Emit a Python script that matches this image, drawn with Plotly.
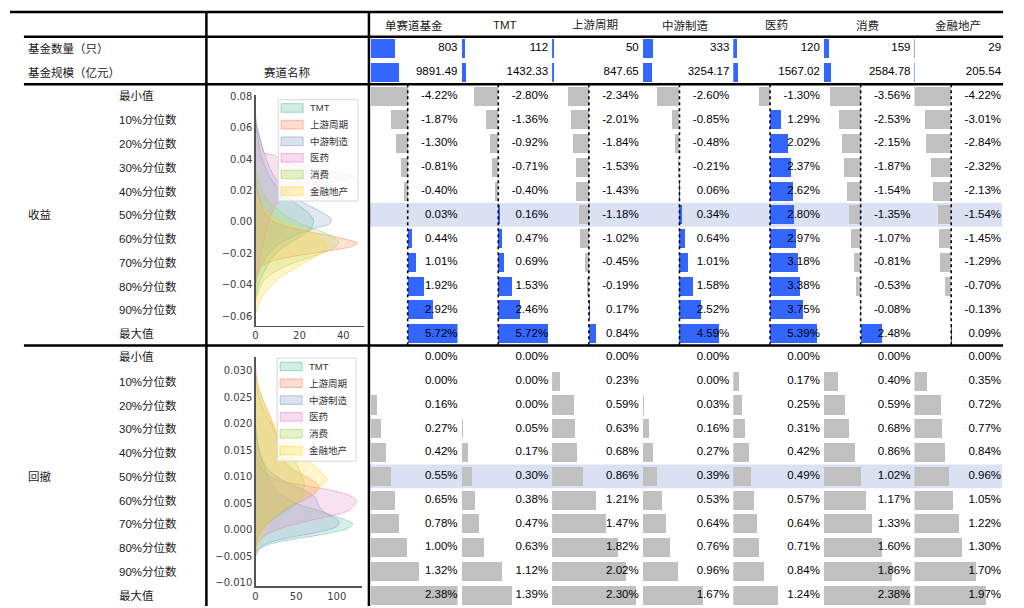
import plotly.graph_objects as go

# ---------------- data ----------------
categories = ["单赛道基金", "TMT", "上游周期", "中游制造", "医药", "消费", "金融地产"]
fund_count = [803, 112, 50, 333, 120, 159, 29]
fund_size = [9891.49, 1432.33, 847.65, 3254.17, 1567.02, 2584.78, 205.54]
pct_labels = ["最小值", "10%分位数", "20%分位数", "30%分位数", "40%分位数", "50%分位数",
              "60%分位数", "70%分位数", "80%分位数", "90%分位数", "最大值"]

# 收益 (%) per track
ret_single = [-4.22, -1.87, -1.30, -0.81, -0.40, 0.03, 0.44, 1.01, 1.92, 2.92, 5.72]
ret_tmt = [-2.80, -1.36, -0.92, -0.71, -0.40, 0.16, 0.47, 0.69, 1.53, 2.46, 5.72]
ret_upstream = [-2.34, -2.01, -1.84, -1.53, -1.43, -1.18, -1.02, -0.45, -0.19, 0.17, 0.84]
ret_midstream = [-2.60, -0.85, -0.48, -0.21, 0.06, 0.34, 0.64, 1.01, 1.58, 2.52, 4.59]
ret_pharma = [-1.30, 1.29, 2.02, 2.37, 2.62, 2.80, 2.97, 3.18, 3.38, 3.75, 5.39]
ret_consumer = [-3.56, -2.53, -2.15, -1.87, -1.54, -1.35, -1.07, -0.81, -0.53, -0.08, 2.48]
ret_finance = [-4.22, -3.01, -2.84, -2.32, -2.13, -1.54, -1.45, -1.29, -0.70, -0.13, 0.09]

# 回撤 (%) per track
dd_single = [0.00, 0.00, 0.16, 0.27, 0.42, 0.55, 0.65, 0.78, 1.00, 1.32, 2.38]
dd_tmt = [0.00, 0.00, 0.00, 0.05, 0.17, 0.30, 0.38, 0.47, 0.63, 1.12, 1.39]
dd_upstream = [0.00, 0.23, 0.59, 0.63, 0.68, 0.86, 1.21, 1.47, 1.82, 2.02, 2.30]
dd_midstream = [0.00, 0.00, 0.03, 0.16, 0.27, 0.39, 0.53, 0.64, 0.76, 0.96, 1.67]
dd_pharma = [0.00, 0.17, 0.25, 0.31, 0.42, 0.49, 0.57, 0.64, 0.71, 0.84, 1.24]
dd_consumer = [0.00, 0.40, 0.59, 0.68, 0.86, 1.02, 1.17, 1.33, 1.60, 1.86, 2.38]
dd_finance = [0.00, 0.35, 0.72, 0.77, 0.84, 0.96, 1.05, 1.22, 1.30, 1.70, 1.97]

returns = [ret_single, ret_tmt, ret_upstream, ret_midstream, ret_pharma, ret_consumer, ret_finance]
drawdowns = [dd_single, dd_tmt, dd_upstream, dd_midstream, dd_pharma, dd_consumer, dd_finance]

# KDE curves: level on y, density on x
kde_names = ["TMT", "上游周期", "中游制造", "医药", "消费", "金融地产"]
kde_colors = ["102,194,165", "252,141,98", "141,160,203", "231,138,195", "166,216,84", "255,217,47"]

kr_tmt_y = [0.069, 0.060, 0.050, 0.040, 0.030, 0.020, 0.013, 0.006, 0.001, -0.004, -0.009, -0.013, -0.018, -0.023, -0.030, -0.036, -0.042, -0.048]
kr_tmt_x = [0, 0.5, 1.5, 3, 6, 11, 17, 24, 26.5, 25.5, 21, 16, 11, 7.5, 4.5, 2.5, 1, 0]
kr_up_y = [0.027, 0.020, 0.012, 0.006, 0.001, -0.003, -0.007, -0.010, -0.0135, -0.016, -0.019, -0.022, -0.025, -0.028, -0.032, -0.036]
kr_up_x = [0, 1, 2.5, 4, 7, 14, 27, 38, 46.5, 43, 31, 17, 7.5, 3, 0.8, 0]
kr_mid_y = [0.064, 0.058, 0.050, 0.044, 0.036, 0.028, 0.020, 0.013, 0.007, 0.002, -0.001, -0.004, -0.008, -0.012, -0.017, -0.022, -0.028, -0.034, -0.040]
kr_mid_x = [0, 1, 2.5, 4, 6, 9, 14, 21, 29, 34.5, 34, 27, 19, 13, 8, 5, 2.5, 1, 0]
kr_ph_y = [0.066, 0.060, 0.054, 0.048, 0.044, 0.0425, 0.040, 0.037, 0.034, 0.031, 0.0285, 0.026, 0.023, 0.020, 0.016, 0.010, 0.004, -0.002, -0.008, -0.014, -0.020, -0.027, -0.033, -0.038]
kr_ph_x = [0, 0.8, 2, 3, 4, 9, 11, 17, 26, 38, 45, 36, 24, 16, 12, 9, 7, 5.5, 4.5, 3.5, 2.5, 1.5, 0.5, 0]
kr_con_y = [0.034, 0.028, 0.020, 0.013, 0.008, 0.003, -0.002, -0.006, -0.010, -0.0135, -0.017, -0.020, -0.024, -0.028, -0.033, -0.038, -0.044, -0.050]
kr_con_x = [0, 1, 3, 6, 10, 15, 22, 30, 36, 38, 35, 30, 22, 14, 7.5, 3.5, 1.5, 0]
kr_fin_y = [0.018, 0.013, 0.008, 0.004, 0.000, -0.004, -0.008, -0.011, -0.0145, -0.018, -0.021, -0.025, -0.030, -0.034, -0.038, -0.042, -0.046, -0.050, -0.055, -0.058]
kr_fin_x = [0, 1.5, 4, 7.5, 12, 19.5, 26, 30.5, 32.5, 31.5, 29, 23.5, 17.5, 12.5, 9, 6, 3.8, 2, 0.8, 0]

kd_tmt_y = [0.020, 0.017, 0.014, 0.0115, 0.009, 0.007, 0.005, 0.0035, 0.0022, 0.0011, 0.0002, -0.0008, -0.0018, -0.0028, -0.0038, -0.005]
kd_tmt_x = [0, 2, 6, 12, 18, 28, 50, 80, 105, 120, 112, 85, 45, 15, 4, 0]
kd_up_y = [0.031, 0.028, 0.025, 0.022, 0.019, 0.016, 0.0135, 0.0115, 0.0098, 0.0083, 0.007, 0.0055, 0.004, 0.0025, 0.001, -0.0005, -0.002, -0.004]
kd_up_x = [0, 2, 8, 16, 23, 28, 33, 45, 65, 78, 74, 58, 40, 25, 13, 5, 1.5, 0]
kd_mid_y = [0.019, 0.016, 0.013, 0.011, 0.009, 0.0075, 0.006, 0.0045, 0.003, 0.0016, 0.0006, -0.0005, -0.0015, -0.0025, -0.0035, -0.0045]
kd_mid_x = [0, 3, 9, 18, 38, 60, 74, 78, 88, 103, 100, 75, 40, 15, 4, 0]
kd_ph_y = [0.016, 0.013, 0.011, 0.0095, 0.0085, 0.0075, 0.0065, 0.0055, 0.0045, 0.0035, 0.0025, 0.0015, 0.0005, -0.0005, -0.0015, -0.003, -0.004]
kd_ph_x = [0, 3, 10, 25, 55, 92, 116, 124, 121, 113, 88, 60, 35, 18, 8, 1.5, 0]
kd_con_y = [0.029, 0.026, 0.023, 0.020, 0.017, 0.014, 0.011, 0.0085, 0.006, 0.0035, 0.0015, -0.0005, -0.0025, -0.004]
kd_con_x = [0, 3, 9, 19, 32, 45, 55, 60, 56, 38, 18, 6, 1.5, 0]
kd_fin_y = [0.028, 0.025, 0.022, 0.0195, 0.017, 0.0145, 0.012, 0.0095, 0.0075, 0.0055, 0.0035, 0.0015, 0.0, -0.0015, -0.003, -0.005]
kd_fin_x = [0, 7, 16, 24, 35, 50, 73, 88, 75, 50, 28, 16, 11, 5, 2, 0]

kde_ret = [(kr_tmt_x, kr_tmt_y), (kr_up_x, kr_up_y), (kr_mid_x, kr_mid_y),
           (kr_ph_x, kr_ph_y), (kr_con_x, kr_con_y), (kr_fin_x, kr_fin_y)]
kde_dd = [(kd_tmt_x, kd_tmt_y), (kd_up_x, kd_up_y), (kd_mid_x, kd_mid_y),
          (kd_ph_x, kd_ph_y), (kd_con_x, kd_con_y), (kd_fin_x, kd_fin_y)]

# ---------------- styling / geometry ----------------
W, H = 1024, 608
BLUE = "#3366FF"
GREY = "#C0C0C0"
HIGHLIGHT = "#D9E1F2"
NUM_FONT = dict(family="Liberation Sans, Arial, Noto Sans CJK SC", size=11.5, color="#000000")
CJK_FONT = dict(family="Liberation Sans, Noto Sans CJK SC", size=11.5, color="#1a1a1a")
TICK_FONT = dict(family="DejaVu Sans", size=10, color="#404040")
LEG_FONT = dict(family="Liberation Sans, Noto Sans CJK SC", size=9.5, color="#333333")


def fx(p):
    return p / W


def fy(p):
    return 1 - p / H


COL0, COL_END = 367.0, 1003.0
COLW = (COL_END - COL0) / 7
PAD = 2.0
ROW_H = 24.0
HDR_TOP, RET_TOP, DD_TOP = 33.0, 81.0, 345.0
ANN_PAD = 3.0  # annotation inner padding compensation

CNT_MAX = max(fund_count) * 3.6
SIZE_MAX = max(fund_size) * 3.1
RET_MIN = min(min(r) for r in returns)
RET_MAX = max(max(r) for r in returns)
DD_MAX = max(max(d) for d in drawdowns)

fig = go.Figure()
axes = {}
n_x = [0]


def new_xaxis(dom_px, rng, anchor, **kw):
    n_x[0] += 1
    k = n_x[0]
    name = "xaxis" if k == 1 else f"xaxis{k}"
    ref = "x" if k == 1 else f"x{k}"
    d = dict(domain=[fx(dom_px[0]), fx(dom_px[1])], range=rng, anchor=anchor,
             visible=False, fixedrange=True)
    d.update(kw)
    axes[name] = d
    return ref


# y axes for table blocks
axes["yaxis"] = dict(domain=[fy(RET_TOP), fy(HDR_TOP)], range=[1.5, -0.5], visible=False, fixedrange=True)
axes["yaxis2"] = dict(domain=[fy(DD_TOP), fy(RET_TOP)], range=[10.5, -0.5], visible=False, fixedrange=True)
axes["yaxis3"] = dict(domain=[0, fy(DD_TOP)], range=[-0.5 + (H - DD_TOP) / ROW_H, -0.5],
                      visible=False, fixedrange=True)

rows = list(range(11))
shapes = []
annotations = []

# highlight (median) rows
for yref in ["y2", "y3"]:
    shapes.append(dict(type="rect", xref="paper", yref=yref, x0=fx(COL0), x1=fx(1002), y0=4.5, y1=5.5,
                       fillcolor=HIGHLIGHT, line=dict(width=0), layer="below"))

for j, cat in enumerate(categories):
    left = COL0 + j * COLW
    dom = (left + PAD, left + COLW - PAD)
    x_cnt = new_xaxis(dom, [0, CNT_MAX], "y")
    x_size = new_xaxis(dom, [0, SIZE_MAX], "y")
    x_ret = new_xaxis(dom, [RET_MIN, RET_MAX], "y2")
    x_dd = new_xaxis(dom, [0, DD_MAX], "y3")

    # header rows
    fig.add_trace(go.Bar(x=[fund_count[j]], y=[0], orientation="h", xaxis=x_cnt, yaxis="y",
                         marker=dict(color=BLUE, line=dict(width=0)), width=0.8, showlegend=False, hoverinfo="skip"))
    fig.add_trace(go.Scatter(x=[CNT_MAX], y=[0], text=[f"{fund_count[j]}"], mode="text",
                             textposition="middle left", textfont=NUM_FONT, xaxis=x_cnt, yaxis="y",
                             cliponaxis=False, showlegend=False, hoverinfo="skip"))
    fig.add_trace(go.Bar(x=[fund_size[j]], y=[1], orientation="h", xaxis=x_size, yaxis="y",
                         marker=dict(color=BLUE, line=dict(width=0)), width=0.8, showlegend=False, hoverinfo="skip"))
    fig.add_trace(go.Scatter(x=[SIZE_MAX], y=[1], text=[f"{fund_size[j]:.2f}"], mode="text",
                             textposition="middle left", textfont=NUM_FONT, xaxis=x_size, yaxis="y",
                             cliponaxis=False, showlegend=False, hoverinfo="skip"))

    # returns block
    r = returns[j]
    fig.add_trace(go.Bar(x=r, y=rows, orientation="h", xaxis=x_ret, yaxis="y2", width=0.8,
                         marker=dict(color=[BLUE if v >= 0 else GREY for v in r], line=dict(width=0)),
                         showlegend=False, hoverinfo="skip"))
    fig.add_trace(go.Scatter(x=[RET_MAX] * len(r), y=rows, text=[f"{v:.2f}%" for v in r], mode="text",
                             textposition="middle left", textfont=NUM_FONT, xaxis=x_ret, yaxis="y2",
                             cliponaxis=False, showlegend=False, hoverinfo="skip"))
    shapes.append(dict(type="line", xref=x_ret, yref="y2", x0=0, x1=0, y0=-0.5, y1=10.5,
                       line=dict(color="#000000", width=1.6, dash="dot"), layer="above"))

    # drawdown block
    d = drawdowns[j]
    fig.add_trace(go.Bar(x=d, y=rows, orientation="h", xaxis=x_dd, yaxis="y3", width=0.8,
                         marker=dict(color=GREY, line=dict(width=0)), showlegend=False, hoverinfo="skip"))
    fig.add_trace(go.Scatter(x=[DD_MAX] * len(d), y=rows, text=[f"{v:.2f}%" for v in d], mode="text",
                             textposition="middle left", textfont=NUM_FONT, xaxis=x_dd, yaxis="y3",
                             cliponaxis=False, showlegend=False, hoverinfo="skip"))

    annotations.append(dict(xref=f"{x_ret} domain", x=0.5, yref="paper", y=fy(21.5), text=cat,
                            showarrow=False, font=CJK_FONT, xanchor="center", yanchor="middle"))

# ---------------- KDE charts ----------------
xk1 = new_xaxis((253.3, 361.7), [0, 49.3], "y4")
xk2 = new_xaxis((253.3, 360.0), [0, 131], "y5")
kde_x_common = dict(visible=True, showline=True, linecolor="#555555", linewidth=1.2, showgrid=False,
                    zeroline=False, ticks="", tickfont=TICK_FONT)
axes[xk1.replace("x", "xaxis")].update(kde_x_common, tickvals=[0, 20, 40])
axes[xk2.replace("x", "xaxis")].update(kde_x_common, tickvals=[0, 50, 100])
axes["yaxis4"] = dict(domain=[fy(325), fy(91.7)], range=[-0.0662, 0.081], anchor=xk1,
                      tickvals=[-0.06, -0.04, -0.02, 0.0, 0.02, 0.04, 0.06, 0.08], tickformat=".2f",
                      fixedrange=True, **kde_x_common)
axes["yaxis5"] = dict(domain=[fy(588.3), fy(356.7)], range=[-0.0107, 0.0326], anchor=xk2,
                      tickvals=[-0.01, -0.005, 0.0, 0.005, 0.01, 0.015, 0.02, 0.025, 0.03], tickformat=".3f",
                      fixedrange=True, **kde_x_common)

for (xs, ys), name, c in zip(kde_ret, kde_names, kde_colors):
    fig.add_trace(go.Scatter(x=xs, y=ys, mode="lines", fill="tozerox", name=name,
                             line=dict(color=f"rgba({c},0.55)", width=1, shape="spline", smoothing=0.7),
                             fillcolor=f"rgba({c},0.25)", xaxis=xk1, yaxis="y4",
                             showlegend=False, hoverinfo="skip"))
for (xs, ys), name, c in zip(kde_dd, kde_names, kde_colors):
    fig.add_trace(go.Scatter(x=xs, y=ys, mode="lines", fill="tozerox", name=name,
                             line=dict(color=f"rgba({c},0.55)", width=1, shape="spline", smoothing=0.7),
                             fillcolor=f"rgba({c},0.25)", xaxis=xk2, yaxis="y5",
                             showlegend=False, hoverinfo="skip"))


# matplotlib-style legends inside the KDE charts
def kde_legend(box, first_y, step):
    x0, y0, x1, y1 = box
    shapes.append(dict(type="rect", xref="paper", yref="paper", x0=fx(x0), x1=fx(x1), y0=fy(y1), y1=fy(y0),
                       fillcolor="rgba(255,255,255,0.8)", line=dict(color="#d6d6d6", width=1), layer="above"))
    for i, (name, c) in enumerate(zip(kde_names, kde_colors)):
        yc = first_y + i * step
        shapes.append(dict(type="rect", xref="paper", yref="paper", x0=fx(x0 + 3), x1=fx(x0 + 25),
                           y0=fy(yc + 4.3), y1=fy(yc - 4.3), fillcolor=f"rgba({c},0.3)",
                           line=dict(color=f"rgba({c},0.6)", width=1), layer="above"))
        annotations.append(dict(xref="paper", yref="paper", x=fx(x0 + 33 - ANN_PAD), y=fy(yc), text=name,
                                showarrow=False, font=LEG_FONT, xanchor="left", yanchor="middle"))


kde_legend((276, 96.7, 356, 199), 105.0, 16.8)
kde_legend((275, 357.7, 354, 461.7), 366.0, 17.0)


# ---------------- left labels ----------------
def label(text, x_px, yref, yrow, anchor="left"):
    xp = x_px - ANN_PAD if anchor == "left" else x_px
    annotations.append(dict(xref="paper", x=fx(xp), yref=yref, y=yrow, text=text, showarrow=False,
                            font=CJK_FONT, xanchor=anchor, yanchor="middle"))


label("基金数量（只）", 26, "y", 0)
label("基金规模（亿元）", 26, "y", 1)
label("赛道名称", 285.5, "y", 1, "center")
label("收益", 26, "y2", 5)
label("回撤", 26, "y3", 5)
for i, t in enumerate(pct_labels):
    label(t, 117, "y2", i)
    label(t, 117, "y3", i)


# ---------------- table rules ----------------
def hline(x0, x1, y):
    shapes.append(dict(type="line", xref="paper", yref="paper", x0=fx(x0), x1=fx(x1), y0=fy(y), y1=fy(y),
                       line=dict(color="#000000", width=2.5), layer="above"))


def vline(x, y0, y1):
    shapes.append(dict(type="line", xref="paper", yref="paper", x0=fx(x), x1=fx(x), y0=fy(y0), y1=fy(y1),
                       line=dict(color="#000000", width=2.5), layer="above"))


hline(7, 1003, 8)
hline(21, 1003, 33)
hline(21, 1003, 81)
hline(21, 1003, 345)
vline(204, 8, 608)
vline(367, 8, 608)

fig.update_layout(
    width=W, height=H, margin=dict(l=0, r=0, t=0, b=0),
    paper_bgcolor="#FFFFFF", plot_bgcolor="rgba(0,0,0,0)",
    barmode="overlay", bargap=0, showlegend=False,
    shapes=shapes, annotations=annotations,
    **axes,
)

fig.write_html("out.html", config={"displayModeBar": False, "staticPlot": True},
               post_script="document.body.style.margin='0';")
